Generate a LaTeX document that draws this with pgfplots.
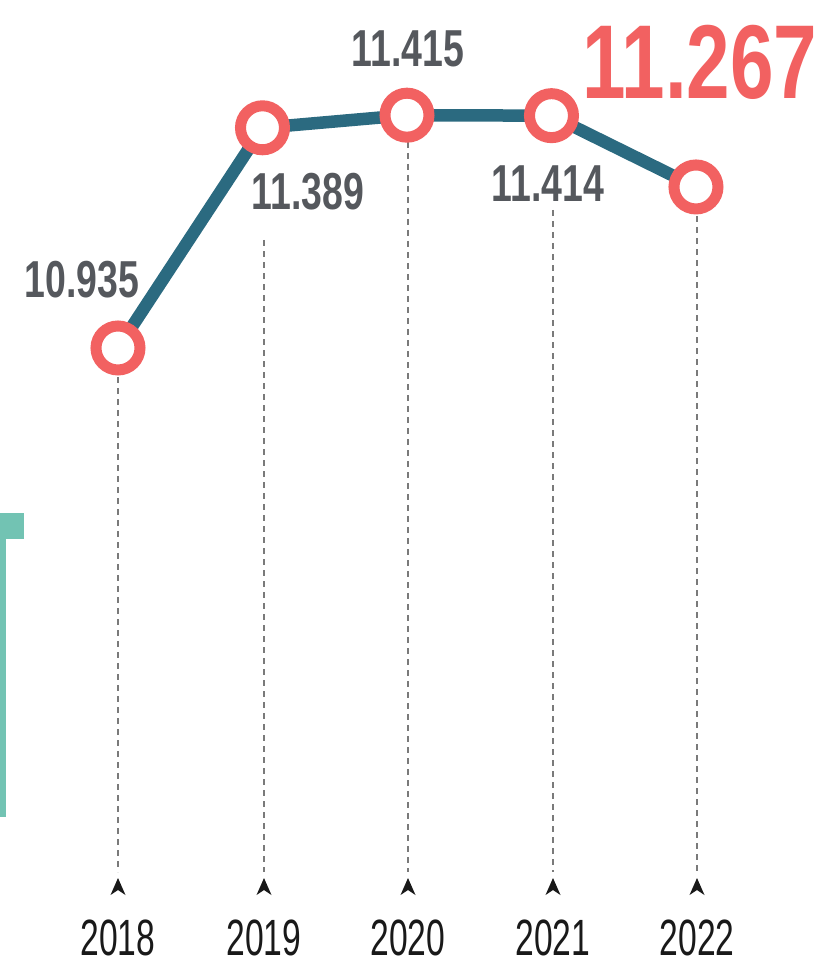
\documentclass[border=0pt]{standalone}
\usepackage{pgfplots}
\pgfplotsset{compat=1.18}
\usepackage{fontspec}
\setmainfont{Liberation Sans}
\newfontfamily\bc[FakeStretch=0.72]{Liberation Sans}
\newfontfamily\bbc[FakeStretch=0.745]{Liberation Sans}
\newfontfamily\rc[FakeStretch=0.66]{Liberation Sans}
\definecolor{ringred}{HTML}{F26161}
\definecolor{linecol}{HTML}{2B6A80}
\definecolor{labgrey}{HTML}{55585D}
\definecolor{teal}{HTML}{72C3B3}
\definecolor{dashgrey}{HTML}{7A7A7A}
\begin{document}
\begin{tikzpicture}
% guide lines (pixel frame of the 825x960 picture)
\begin{scope}[x=1pt, y=-1pt, dashgrey, line width=1.3pt, dash pattern=on 6pt off 5pt]
  \draw (118,377) -- (118,872);
  \draw (264,240) -- (264,872);
  \draw (408,142) -- (408,872);
  \draw (553,210) -- (553,872);
  \draw (697,216) -- (697,872);
\end{scope}
\begin{axis}[
  at={(0pt,-960pt)}, anchor=south west,
  width=825pt, height=960pt, scale only axis,
  hide axis, clip=false,
  xmin=-0.8166, xmax=4.893,
  ymin=9.6731, ymax=11.6525,
]
\addplot[linecol, line width=12.5pt, mark=*, mark size=22pt,
  mark options={draw=ringred, fill=white, line width=11pt}]
  coordinates {(0,10.935) (1,11.389) (2,11.415) (3,11.414) (4,11.267)};
\end{axis}
\begin{scope}[shift={(current axis.north west)}, x=1pt, y=-1pt]
  % teal bracket
  \fill[teal] (0,513) rectangle (24,539);
  \fill[teal] (0,513) rectangle (5.5,817);
  % arrowheads
  \foreach \xx in {118,264,408,553,697} {
    \fill[black!90] (\xx,878) -- (\xx+7.5,895) -- (\xx,890) -- (\xx-7.5,895) -- cycle;
  }
  % value labels
  \node[inner sep=0, text=labgrey] at (82,280) {\bc\bfseries\fontsize{52}{52}\selectfont 10.935};
  \node[inner sep=0, text=labgrey] at (308,192) {\bc\bfseries\fontsize{52}{52}\selectfont 11.389};
  \node[inner sep=0, text=labgrey] at (408,49) {\bc\bfseries\fontsize{52}{52}\selectfont 11.415};
  \node[inner sep=0, text=labgrey] at (548,184) {\bc\bfseries\fontsize{52}{52}\selectfont 11.414};
  \node[inner sep=0, text=ringred] at (700,62) {\bbc\bfseries\fontsize{105}{105}\selectfont 11.267};
  % years
  \node[inner sep=0, text=black!90] at (118,938) {\rc\fontsize{51}{51}\selectfont 2018};
  \node[inner sep=0, text=black!90] at (264,938) {\rc\fontsize{51}{51}\selectfont 2019};
  \node[inner sep=0, text=black!90] at (408,938) {\rc\fontsize{51}{51}\selectfont 2020};
  \node[inner sep=0, text=black!90] at (553,938) {\rc\fontsize{51}{51}\selectfont 2021};
  \node[inner sep=0, text=black!90] at (697,938) {\rc\fontsize{51}{51}\selectfont 2022};
\end{scope}
\pgfresetboundingbox
\useasboundingbox (current axis.south west) rectangle (current axis.north east);
\end{tikzpicture}
\end{document}
